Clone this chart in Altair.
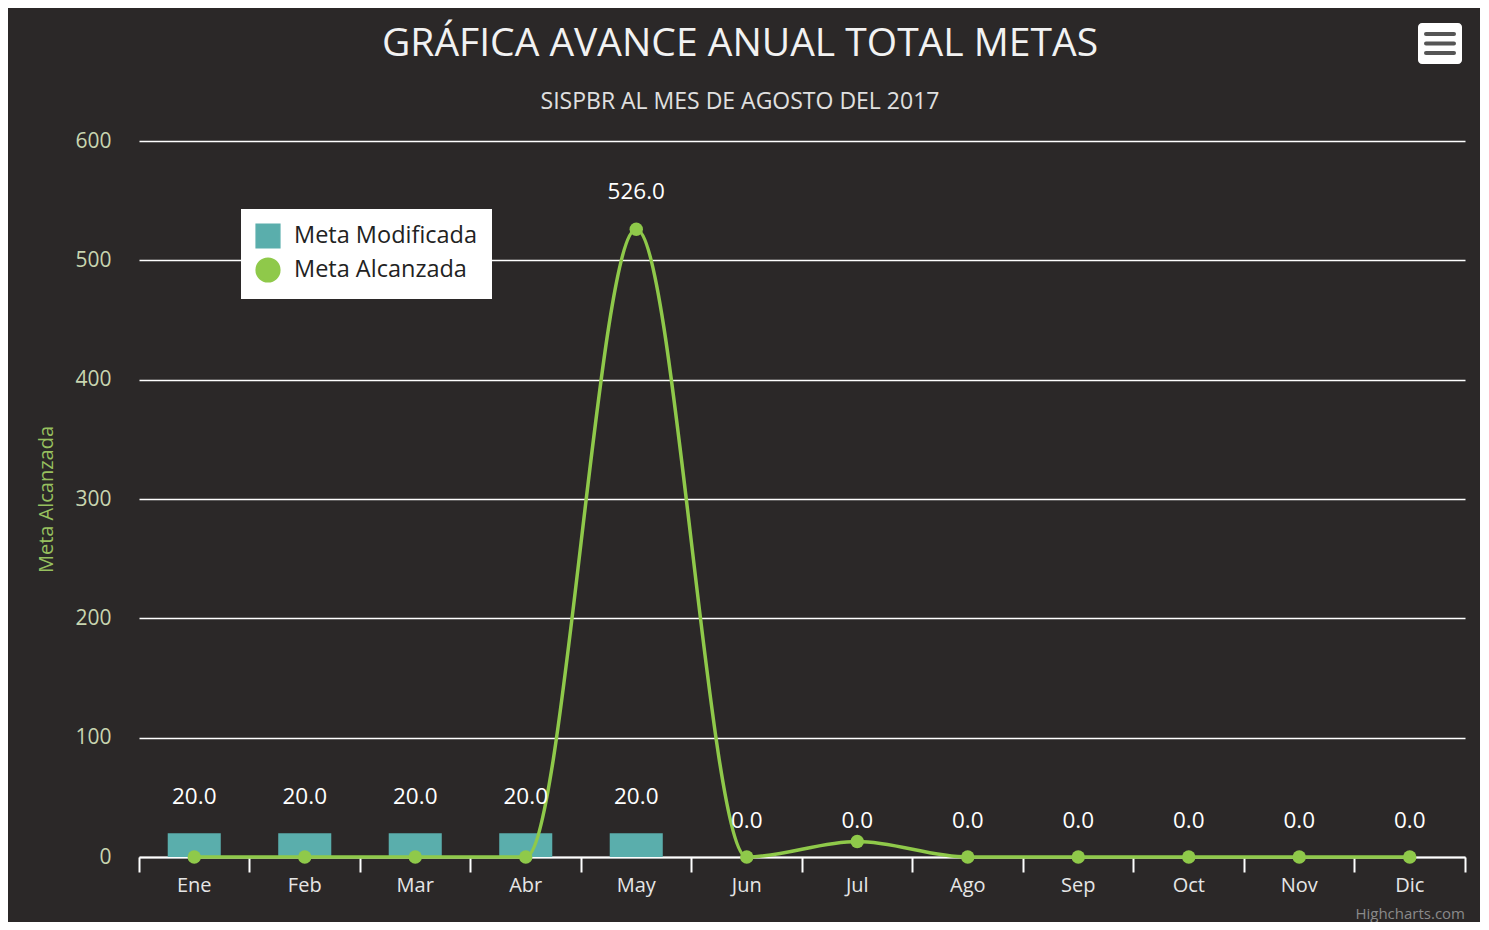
import altair as alt
import pandas as pd

meses = ["Ene", "Feb", "Mar", "Abr", "May", "Jun", "Jul", "Ago", "Sep", "Oct", "Nov", "Dic"]
meta_modificada = [20, 20, 20, 20, 20, 0, 0, 0, 0, 0, 0, 0]
meta_alcanzada = [0, 0, 0, 0, 526, 0, 13, 0, 0, 0, 0, 0]
series = ["Meta Modificada", "Meta Alcanzada"]

rows = []
for m, v in zip(meses, meta_modificada):
    rows.append({"mes": m, "serie": series[0], "valor": v})
for m, v in zip(meses, meta_alcanzada):
    rows.append({"mes": m, "serie": series[1], "valor": v})
df = pd.DataFrame(rows)

BAR = "#5aaeac"
LINE = "#8fc94a"
FONT = "Open Sans"

x = alt.X("mes:N", sort=meses, title=None,
          scale=alt.Scale(paddingInner=0, paddingOuter=0),
          axis=alt.Axis(labelAngle=0, labelColor="#e6e6e6", labelFontSize=20, labelFont=FONT,
                        labelPadding=3, domainColor="#ffffff", domainWidth=2,
                        tickColor="#ffffff", tickWidth=2, tickSize=15,
                        bandPosition=1, tickExtra=True, grid=False))
y = alt.Y("valor:Q", title="Meta Alcanzada",
          scale=alt.Scale(domain=[0, 600], nice=False),
          axis=alt.Axis(values=[0, 100, 200, 300, 400, 500, 600], grid=True, gridColor="#ffffff",
                        gridWidth=1.5, domain=False, ticks=False, labelColor="#c8d6b0",
                        labelFontSize=21, labelFont=FONT, labelPadding=28,
                        titleColor="#97c05f", titleFontSize=20, titleFont=FONT,
                        titleFontWeight="normal", titlePadding=18))

color = alt.Color("serie:N", scale=alt.Scale(domain=series, range=[BAR, LINE]),
                  legend=alt.Legend(title=None, orient="none", legendX=102, legendY=68,
                                    fillColor="#ffffff", padding=14, labelFontSize=23.5,
                                    labelFont=FONT, labelColor="#222222", symbolSize=560,
                                    labelOffset=13, rowPadding=4, labelLimit=400))
shape = alt.Shape("serie:N", scale=alt.Scale(domain=series, range=["square", "circle"]),
                  legend=alt.Legend(title=None))

base = alt.Chart(df)

bars = base.transform_filter(alt.datum.serie == series[0]).mark_bar(
    width=alt.RelativeBandSize(0.48)).encode(x=x, y=y, color=color)

bar_labels = base.transform_filter(alt.datum.serie == series[0]).mark_text(
    dy=-36, fontSize=22.5, font=FONT, color="#ffffff").encode(
    x=x, y=y, text=alt.Text("valor:Q", format=".1f"))

line = base.transform_filter(alt.datum.serie == series[1]).mark_line(
    interpolate="monotone", strokeWidth=3.5).encode(x=x, y=y, color=color)

points = base.transform_filter(alt.datum.serie == series[1]).mark_point(
    filled=True, size=180, opacity=1).encode(x=x, y=y, color=color, shape=shape)

line_labels = base.transform_filter(
    (alt.datum.serie == series[1]) & (alt.datum.valor >= 100)).mark_text(
    dy=-37, fontSize=22.5, font=FONT, color="#ffffff").encode(
    x=x, y=y, text=alt.Text("valor:Q", format=".1f"))

credit_df = pd.DataFrame({"t": ["Highcharts.com"]})
credits = alt.Chart(credit_df).mark_text(
    align="right", baseline="middle", fontSize=15, font=FONT, color="#8a8a8a").encode(
    x=alt.value(1326), y=alt.value(716 + 57), text="t:N")

menu_box = alt.Chart(credit_df).mark_rect(color="#ffffff", cornerRadius=4).encode(
    x=alt.value(1279), x2=alt.value(1323), y=alt.value(-118), y2=alt.value(-77))
menu_lines = [
    alt.Chart(credit_df).mark_rule(color="#555555", strokeWidth=4, strokeCap="round").encode(
        x=alt.value(1287), x2=alt.value(1315), y=alt.value(yy))
    for yy in (-107, -97.5, -88)
]

chart = alt.layer(bars, line, points, bar_labels, line_labels, credits, menu_box,
                  *menu_lines).properties(
    width=1326, height=716,
    title=alt.TitleParams("GRÁFICA AVANCE ANUAL TOTAL METAS",
                          subtitle="SISPBR AL MES DE AGOSTO DEL 2017",
                          anchor="middle", frame="group", dx=-62, offset=-91,
                          color="#f2f2f2", fontSize=39, font=FONT, fontWeight="normal",
                          subtitleColor="#e0e0e0", subtitleFontSize=23, subtitleFont=FONT,
                          subtitlePadding=27),
    autosize=alt.AutoSizeParams(type="none"),
    padding={"left": 131, "top": 133, "right": 15, "bottom": 65},
).configure(background="#2b2828").configure_view(stroke=None)

chart.save("out.html", embed_options={"renderer": "svg", "actions": False})
